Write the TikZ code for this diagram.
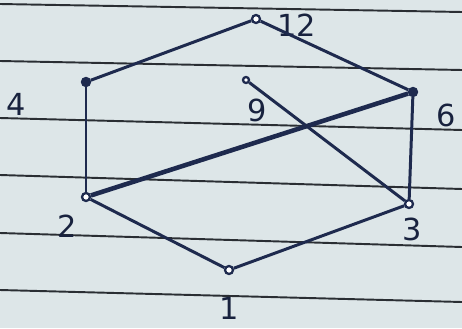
\documentclass[tikz,border=0pt]{standalone}
\usepackage{fontspec}
\setsansfont{DejaVu Sans}
\definecolor{paper}{HTML}{DDE6E8}
\definecolor{rule}{HTML}{2A2E33}
\definecolor{ink}{HTML}{1E2A4E}
\begin{document}
\begin{tikzpicture}[
    x=0.02cm, y=-0.02cm,
    every node/.style={font=\sffamily\LARGE, text=ink!80!black},
    vtx/.style={circle, draw=ink, fill=white, line width=1.3pt, minimum size=0.16cm, inner sep=0pt},
    vtxfull/.style={vtx, fill=ink},
    edge/.style={ink, line width=1.7pt},
    heavy/.style={ink, line width=2.6pt},
    ruling/.style={rule, line width=1.1pt},
]
% paper
\fill[paper] (0,0) rectangle (462,328);
\useasboundingbox (0,0) rectangle (462,328);
\draw[ruling] (0,4) -- (462,12);
\draw[ruling] (0,61) -- (462,70);
\draw[ruling] (0,118) -- (462,130);
\draw[ruling] (0,175) -- (462,189);
\draw[ruling] (0,233) -- (462,247);
\draw[ruling] (0,290) -- (462,302);

% vertices
\node[vtx] (v12) at (256,19) {};
\node[vtxfull] (v4) at (86,82) {};
\node[vtxfull] (v6) at (413,92) {};
\node[vtx, minimum size=0.12cm] (v9) at (246,80) {};
\node[vtx] (v2) at (86,197) {};
\node[vtx] (v3) at (409,204) {};
\node[vtx] (v1) at (229,270) {};

% labels
\node (l12) at (297,25) {12};
\node (l4) at (16,104) {4};
\node (l9) at (257,110) {9};
\node (l6) at (446,115) {6};
\node (l2) at (67,226) {2};
\node (l3) at (412,229) {3};
\node (l1) at (229,308) {1};

% edges
\draw[edge] (v12) -- (v4);
\draw[edge] (v12) -- (v6);
\draw[edge] (v4) -- (v2);
\draw[edge] (v2) -- (v1);
\draw[edge] (v1) -- (v3);
\draw[edge] (v3) -- (v6);
\draw[edge] (v9) -- (v3);
\draw[heavy] (v2) -- (v6);
\end{tikzpicture}
\end{document}
